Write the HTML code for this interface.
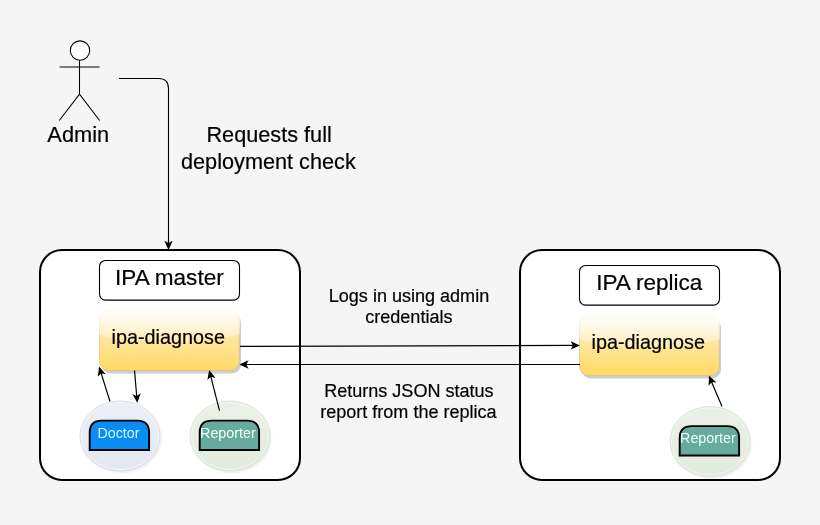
<!DOCTYPE html>
<html><head><meta charset="utf-8"><style>
html,body{margin:0;padding:0;background:#f5f5f5;width:820px;height:525px;overflow:hidden}
svg{display:block;font-family:"Liberation Sans",sans-serif;will-change:transform}
</style></head><body><svg width="820" height="525" viewBox="0 0 820 525" font-family="Liberation Sans, sans-serif"><defs>
<linearGradient id="yg" x1="0" y1="0" x2="0" y2="1">
<stop offset="0" stop-color="#fff2cc"/><stop offset="1" stop-color="#ffd966"/>
</linearGradient>
<linearGradient id="glass" x1="0" y1="0" x2="0" y2="1">
<stop offset="0" stop-color="#fff" stop-opacity="0.9"/><stop offset="1" stop-color="#fff" stop-opacity="0.1"/>
</linearGradient>
<filter id="blur1" x="-20%" y="-20%" width="140%" height="140%"><feGaussianBlur stdDeviation="0.8"/></filter><filter id="blur05" x="-20%" y="-20%" width="140%" height="140%"><feGaussianBlur stdDeviation="0.5"/></filter>
</defs><g stroke="#000" stroke-width="1.05" fill="none"><circle cx="80" cy="50.6" r="9.7" fill="#fff"/><path d="M79.5 60.3 V94.2 M59.6 67 H99.6 M59.3 120.5 L79.5 94.2 L99.6 120.5"/></g><text transform="translate(47.36 141.7) scale(1 1.0)" x="0" y="0" font-size="21.8" fill="#000" stroke="#000" stroke-width="0.2" text-anchor="start" >Admin</text><path d="M119 78.5 H158.5 Q168.5 78.5 168.5 88.5 V243" stroke="#000" stroke-width="1.1" fill="none"/><path d="M168.50 240.00 L168.50 243.70" stroke="#000" stroke-width="1.2" fill="none"/><path d="M168.50 248.50 L165.60 242.10 L168.50 243.70 L171.40 242.10 Z" fill="#000" stroke="#000" stroke-width="1.2" stroke-linejoin="miter"/><text transform="translate(206.43 141.76) scale(1 1.0)" x="0" y="0" font-size="21.7" fill="#000" stroke="#000" stroke-width="0.2" text-anchor="start" >Requests full</text><text transform="translate(180.97 168.6) scale(1 1.0)" x="0" y="0" font-size="21.7" fill="#000" stroke="#000" stroke-width="0.2" text-anchor="start" >deployment check</text><rect x="40" y="250" width="260" height="230" rx="22" ry="22" fill="#fff" stroke="#000" stroke-width="2"/><rect x="520" y="250" width="260" height="230" rx="22" ry="22" fill="#fff" stroke="#000" stroke-width="2"/><rect x="99.5" y="260.5" width="140" height="39.6" rx="6" fill="#fff" stroke="#000" stroke-width="1.1"/><text transform="translate(115.1 285.1) scale(1 1.0)" x="0" y="0" font-size="22.55" fill="#000" stroke="#000" stroke-width="0.2" text-anchor="start" >IPA master</text><rect x="579.5" y="265.5" width="140" height="39.6" rx="6" fill="#fff" stroke="#000" stroke-width="1.1"/><text transform="translate(596.2 290.0) scale(1 1.0)" x="0" y="0" font-size="22.55" fill="#000" stroke="#000" stroke-width="0.2" text-anchor="start" >IPA replica</text><linearGradient id="yga" gradientUnits="userSpaceOnUse" x1="0" y1="310.5" x2="0" y2="370.5"><stop offset="0" stop-color="#fff2cc"/><stop offset="1" stop-color="#ffd966"/></linearGradient><linearGradient id="gla" gradientUnits="userSpaceOnUse" x1="0" y1="310.5" x2="0" y2="346.5"><stop offset="0" stop-color="#fff" stop-opacity="0.9"/><stop offset="1" stop-color="#fff" stop-opacity="0.1"/></linearGradient><rect x="101.5" y="313.5" width="139.6" height="60" rx="9" fill="#c8c8c8" opacity="0.9" filter="url(#blur05)"/><rect x="99.5" y="310.5" width="139.6" height="60" rx="9" fill="url(#yga)" stroke="#dcc27a" stroke-width="0.7"/><path d="M108.5 309.5 Q98.5 309.5 98.5 319.5 L98.5 334.5 Q169.3 352.5 240.1 334.5 L240.1 319.5 Q240.1 309.5 230.1 309.5 Z" fill="url(#gla)"/><text transform="translate(111.6 344.2) scale(1 1.0)" x="0" y="0" font-size="19.8" fill="#000" stroke="#000" stroke-width="0.2" text-anchor="start" >ipa-diagnose</text><linearGradient id="ygb" gradientUnits="userSpaceOnUse" x1="0" y1="315.5" x2="0" y2="375.5"><stop offset="0" stop-color="#fff2cc"/><stop offset="1" stop-color="#ffd966"/></linearGradient><linearGradient id="glb" gradientUnits="userSpaceOnUse" x1="0" y1="315.5" x2="0" y2="351.5"><stop offset="0" stop-color="#fff" stop-opacity="0.9"/><stop offset="1" stop-color="#fff" stop-opacity="0.1"/></linearGradient><rect x="581.5" y="318.5" width="139.6" height="60" rx="9" fill="#c8c8c8" opacity="0.9" filter="url(#blur05)"/><rect x="579.5" y="315.5" width="139.6" height="60" rx="9" fill="url(#ygb)" stroke="#dcc27a" stroke-width="0.7"/><path d="M588.5 314.5 Q578.5 314.5 578.5 324.5 L578.5 339.5 Q649.3 357.5 720.1 339.5 L720.1 324.5 Q720.1 314.5 710.1 314.5 Z" fill="url(#glb)"/><text transform="translate(591.6 349.2) scale(1 1.0)" x="0" y="0" font-size="19.8" fill="#000" stroke="#000" stroke-width="0.2" text-anchor="start" >ipa-diagnose</text><path d="M240.00 346.40 L573.70 345.41" stroke="#000" stroke-width="1.2" fill="none"/><path d="M578.50 345.40 L572.11 348.32 L573.70 345.41 L572.09 342.52 Z" fill="#000" stroke="#000" stroke-width="1.2" stroke-linejoin="miter"/><path d="M580.00 364.50 L245.60 364.50" stroke="#000" stroke-width="1.2" fill="none"/><path d="M240.80 364.50 L247.20 361.60 L245.60 364.50 L247.20 367.40 Z" fill="#000" stroke="#000" stroke-width="1.2" stroke-linejoin="miter"/><text transform="translate(328.79 301.6) scale(1 1.0)" x="0" y="0" font-size="18.05" fill="#000" stroke="#000" stroke-width="0.2" text-anchor="start" >Logs in using admin</text><text transform="translate(365.27 323.4) scale(1 1.0)" x="0" y="0" font-size="18.05" fill="#000" stroke="#000" stroke-width="0.2" text-anchor="start" >credentials</text><text transform="translate(324.2 397) scale(1 1.0)" x="0" y="0" font-size="18.05" fill="#000" stroke="#000" stroke-width="0.2" text-anchor="start" >Returns JSON status</text><text transform="translate(320.2 417.9) scale(1 1.0)" x="0" y="0" font-size="18.05" fill="#000" stroke="#000" stroke-width="0.2" text-anchor="start" >report from the replica</text><linearGradient id="egd" gradientUnits="userSpaceOnUse" x1="0" y1="400.5" x2="0" y2="470.5"><stop offset="0" stop-color="#edf0f6"/><stop offset="1" stop-color="#e3e7f0"/></linearGradient><ellipse cx="121.5" cy="438.0" rx="40" ry="35" fill="#000" opacity="0.07" filter="url(#blur1)"/><ellipse cx="120" cy="436.0" rx="40" ry="35" fill="url(#egd)" stroke="#dadfe8" stroke-width="1"/><ellipse cx="120" cy="436.0" rx="38.5" ry="33.5" fill="none" stroke="#f5f6f9" stroke-width="1"/><path d="M89.7 450.0 V432.6 Q89.7 420.6 101.7 420.6 H137.1 Q149.1 420.6 149.1 432.6 V450.0 Z" fill="#0a8bf6" stroke="#000" stroke-width="1.9"/><text transform="translate(97.4 437.7) scale(1 1.0)" x="0" y="0" font-size="14.3" fill="#d2f6ff" stroke="#d2f6ff" stroke-width="0" text-anchor="start" >Doctor</text><linearGradient id="egr1" gradientUnits="userSpaceOnUse" x1="0" y1="400.5" x2="0" y2="470.5"><stop offset="0" stop-color="#ebf1e8"/><stop offset="1" stop-color="#e2ebdf"/></linearGradient><ellipse cx="231.5" cy="438.0" rx="40" ry="35" fill="#000" opacity="0.07" filter="url(#blur1)"/><ellipse cx="230" cy="436.0" rx="40" ry="35" fill="url(#egr1)" stroke="#dbe4d8" stroke-width="1"/><ellipse cx="230" cy="436.0" rx="38.5" ry="33.5" fill="none" stroke="#f4f7f2" stroke-width="1"/><path d="M199.7 450.0 V432.6 Q199.7 420.6 211.7 420.6 H247.10000000000002 Q259.1 420.6 259.1 432.6 V450.0 Z" fill="#67ab9f" stroke="#000" stroke-width="1.9"/><text transform="translate(200.06 437.5) scale(1 1.0)" x="0" y="0" font-size="14.3" fill="#effff5" stroke="#effff5" stroke-width="0" text-anchor="start" >Reporter</text><linearGradient id="egr2" gradientUnits="userSpaceOnUse" x1="0" y1="406" x2="0" y2="476"><stop offset="0" stop-color="#ebf1e8"/><stop offset="1" stop-color="#e2ebdf"/></linearGradient><ellipse cx="711.5" cy="443.5" rx="40" ry="35" fill="#000" opacity="0.07" filter="url(#blur1)"/><ellipse cx="710" cy="441.5" rx="40" ry="35" fill="url(#egr2)" stroke="#dbe4d8" stroke-width="1"/><ellipse cx="710" cy="441.5" rx="38.5" ry="33.5" fill="none" stroke="#f4f7f2" stroke-width="1"/><path d="M679.7 455.5 V438.1 Q679.7 426.1 691.7 426.1 H727.1 Q739.1 426.1 739.1 438.1 V455.5 Z" fill="#67ab9f" stroke="#000" stroke-width="1.9"/><text transform="translate(680.06 443.0) scale(1 1.0)" x="0" y="0" font-size="14.3" fill="#effff5" stroke="#effff5" stroke-width="0" text-anchor="start" >Reporter</text><path d="M110.00 401.50 L100.94 372.58" stroke="#000" stroke-width="1.2" fill="none"/><path d="M99.50 368.00 L104.18 373.24 L100.94 372.58 L98.65 374.97 Z" fill="#000" stroke="#000" stroke-width="1.2" stroke-linejoin="miter"/><path d="M134.50 370.50 L136.78 396.72" stroke="#000" stroke-width="1.2" fill="none"/><path d="M137.20 401.50 L133.76 395.38 L136.78 396.72 L139.53 394.87 Z" fill="#000" stroke="#000" stroke-width="1.2" stroke-linejoin="miter"/><path d="M219.50 410.70 L210.69 376.15" stroke="#000" stroke-width="1.2" fill="none"/><path d="M209.50 371.50 L213.89 376.98 L210.69 376.15 L208.27 378.42 Z" fill="#000" stroke="#000" stroke-width="1.2" stroke-linejoin="miter"/><path d="M722.00 406.50 L711.37 381.42" stroke="#000" stroke-width="1.2" fill="none"/><path d="M709.50 377.00 L714.67 381.76 L711.37 381.42 L709.33 384.02 Z" fill="#000" stroke="#000" stroke-width="1.2" stroke-linejoin="miter"/></svg></body></html>
